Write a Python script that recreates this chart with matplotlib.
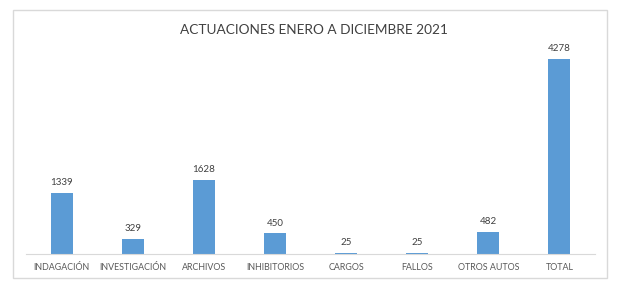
import matplotlib.pyplot as plt
from matplotlib.patches import Rectangle

categorias = ['INDAGACIÓN', 'INVESTIGACIÓN', 'ARCHIVOS', 'INHIBITORIOS',
              'CARGOS', 'FALLOS', 'OTROS AUTOS', 'TOTAL']
valores = [1339, 329, 1628, 450, 25, 25, 482, 4278]

plt.rcParams['font.family'] = ['Lato', 'DejaVu Sans']

W, H = 627, 297
fig = plt.figure(figsize=(W / 100, H / 100), dpi=100)

# marco gris del gráfico
fig.patches.append(Rectangle((13 / W, 1 - 278 / H), (607 - 13) / W, (278 - 10) / H,
                             transform=fig.transFigure, fill=False,
                             edgecolor='#d9d9d9', linewidth=1))

ax = fig.add_axes([26 / W, 1 - 254 / H, (595 - 26) / W, (254 - 40) / H])
x = range(len(categorias))
bars = ax.bar(x, valores, width=0.31, color='#5b9bd5')

ax.set_xlim(-0.5, len(categorias) - 0.5)
ax.set_ylim(0, 4278 * (254 - 40) / (254 - 59))

for b, v in zip(bars, valores):
    ax.annotate(str(v), (b.get_x() + b.get_width() / 2, v), xytext=(0, 4),
                textcoords='offset points', ha='center', va='bottom',
                fontsize=7, color='#404040')

ax.set_xticks(list(x))
ax.set_xticklabels(categorias, fontsize=6.4, color='#595959')
ax.tick_params(axis='x', length=0, pad=6.5)
ax.set_yticks([])
for s in ['top', 'right', 'left']:
    ax.spines[s].set_visible(False)
ax.spines['bottom'].set_color('#d9d9d9')

fig.text(0.5, 1 - 30 / H, 'ACTUACIONES ENERO A DICIEMBRE 2021', ha='center', va='center',
         fontsize=9.8, color='#404040')

fig.savefig('out.png', dpi=100)
